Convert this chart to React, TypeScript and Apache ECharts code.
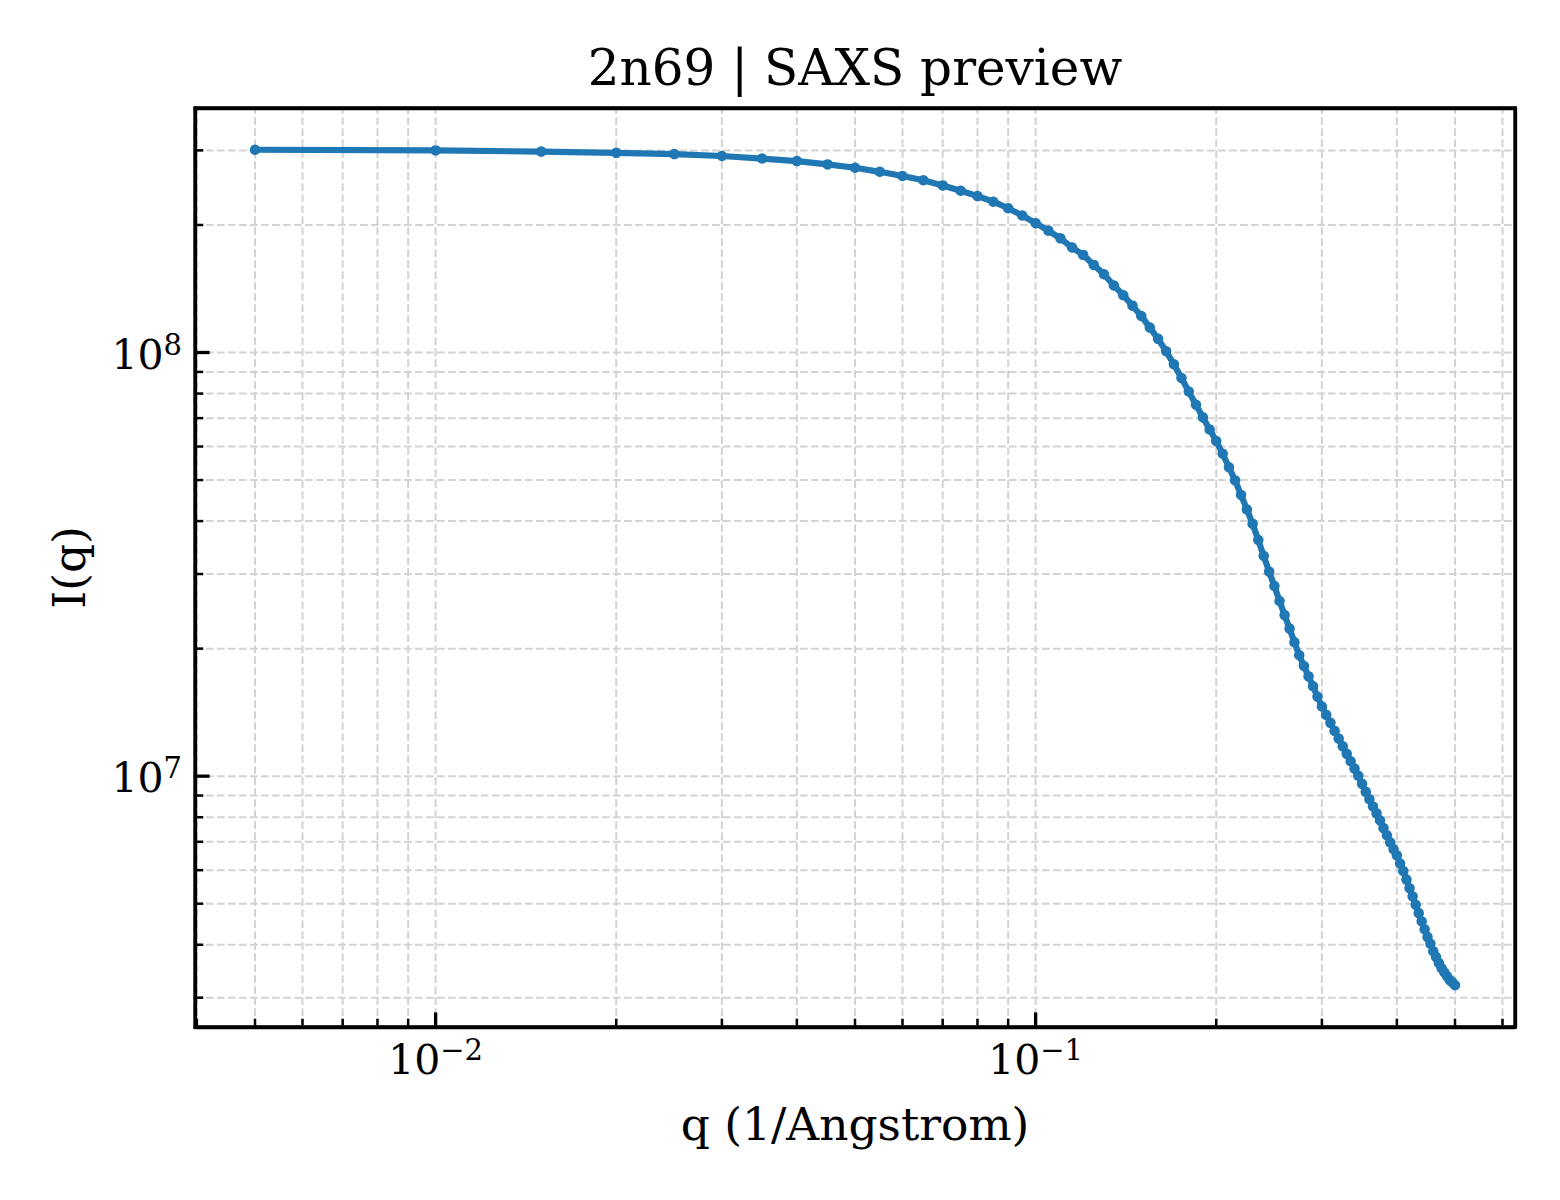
import React, { useEffect, useRef } from "react";
import * as echarts from "echarts";

// ---- data ----
const qValues: number[] = [
  0.005, 0.01, 0.015, 0.02, 0.025, 0.03, 0.035, 0.04, 0.045, 0.05,
  0.055, 0.06, 0.065, 0.07, 0.075, 0.08, 0.085, 0.09, 0.095, 0.1,
  0.105, 0.11, 0.115, 0.12, 0.125, 0.13, 0.135, 0.14, 0.145, 0.15,
  0.155, 0.16, 0.165, 0.17, 0.175, 0.18, 0.185, 0.19, 0.195, 0.2,
  0.205, 0.21, 0.215, 0.22, 0.225, 0.23, 0.235, 0.24, 0.245, 0.25,
  0.255, 0.26, 0.265, 0.27, 0.275, 0.28, 0.285, 0.29, 0.295, 0.3,
  0.305, 0.31, 0.315, 0.32, 0.325, 0.33, 0.335, 0.34, 0.345, 0.35,
  0.355, 0.36, 0.365, 0.37, 0.375, 0.38, 0.385, 0.39, 0.395, 0.4,
  0.405, 0.41, 0.415, 0.42, 0.425, 0.43, 0.435, 0.44, 0.445, 0.45,
  0.455, 0.46, 0.465, 0.47, 0.475, 0.48, 0.485, 0.49, 0.495, 0.5,
];

const intensity: number[] = [
  3.01e8, 3.0e8, 2.98e8, 2.96e8, 2.94e8, 2.91e8, 2.87e8, 2.83e8, 2.78e8, 2.73e8,
  2.67e8, 2.61e8, 2.55e8, 2.48e8, 2.41e8, 2.34e8, 2.27e8, 2.19e8, 2.105e8, 2.02e8,
  1.94e8, 1.86e8, 1.77e8, 1.7e8, 1.61e8, 1.53e8, 1.44e8, 1.365e8, 1.29e8, 1.22e8,
  1.145e8, 1.077e8, 1.007e8, 9.38e7, 8.71e7, 8.09e7, 7.53e7, 7.03e7, 6.58e7, 6.18e7,
  5.77e7, 5.36e7, 4.99e7, 4.61e7, 4.26e7, 3.94e7, 3.61e7, 3.31e7, 3.04e7, 2.81e7,
  2.59e7, 2.4e7, 2.23e7, 2.07e7, 1.93e7, 1.82e7, 1.72e7, 1.63e7, 1.54e7, 1.46e7,
  1.395e7, 1.336e7, 1.279e7, 1.226e7, 1.176e7, 1.129e7, 1.084e7, 1.042e7, 1.002e7, 9.59e6,
  9.18e6, 8.82e6, 8.48e6, 8.17e6, 7.86e6, 7.54e6, 7.25e6, 6.97e6, 6.72e6, 6.5e6,
  6.22e6, 5.97e6, 5.7e6, 5.44e6, 5.2e6, 4.97e6, 4.75e6, 4.54e6, 4.35e6, 4.17e6,
  4.02e6, 3.86e6, 3.74e6, 3.62e6, 3.52e6, 3.44e6, 3.37e6, 3.3e6, 3.26e6, 3.21e6,
];

const xMajorTicks: number[] = [0.01, 0.1];
const xMinorTicks: number[] = [
  0.004, 0.005, 0.006, 0.007, 0.008, 0.009,
  0.02, 0.03, 0.04, 0.05, 0.06, 0.07, 0.08, 0.09,
  0.2, 0.3, 0.4, 0.5, 0.6,
];
const yMajorTicks: number[] = [1e7, 1e8];
const yMinorTicks: number[] = [
  3e6, 4e6, 5e6, 6e6, 7e6, 8e6, 9e6,
  2e7, 3e7, 4e7, 5e7, 6e7, 7e7, 8e7, 9e7,
  2e8, 3e8,
];

const TITLE = "2n69 | SAXS preview";
const X_NAME = "q (1/Angstrom)";
const Y_NAME = "I(q)";

// ---- styling ----
const FONT = '"DejaVu Serif", serif';
const LINE_COLOR = "#1f77b4";
const GRID_COLOR = "#d3d3d3";
const SPINE_W = 3.3;

function paddedLogRange(vals: number[]): [number, number] {
  const lo = Math.log10(Math.min(...vals));
  const hi = Math.log10(Math.max(...vals));
  const pad = (hi - lo) * 0.05;
  return [Math.pow(10, lo - pad), Math.pow(10, hi + pad)];
}

function powerLabel(v: number): string {
  const e = Math.log10(v);
  const r = Math.round(e);
  if (Math.abs(e - r) > 1e-6) return "";
  const s = r < 0 ? "\u2212" + String(-r) : String(r);
  return `{b|10}{s|${s}}`;
}

const labelRich = {
  b: { fontFamily: FONT, fontSize: 41, color: "#000", verticalAlign: "bottom", padding: [4, 0, 0, 0] },
  s: { fontFamily: FONT, fontSize: 29, color: "#000", verticalAlign: "top" },
};

export default function App() {
  const ref = useRef<HTMLDivElement>(null);

  useEffect(() => {
    if (!ref.current) return;
    const chart = echarts.init(ref.current, undefined, { renderer: "svg" });

    const [xMin, xMax] = paddedLogRange(qValues);
    const [yMin, yMax] = paddedLogRange(intensity);
    const yRef = Math.sqrt(yMin * yMax);
    const xRef = Math.sqrt(xMin * xMax);

    const vData = [
      ...xMinorTicks.map((v) => [v, yRef, 0]),
      ...xMajorTicks.map((v) => [v, yRef, 1]),
    ];
    const hData = [
      ...yMinorTicks.map((v) => [xRef, v, 0]),
      ...yMajorTicks.map((v) => [xRef, v, 1]),
    ];

    const gridStyle = { stroke: GRID_COLOR, lineWidth: 2, lineDash: [7.7, 3.3] };

    const baseAxis = {
      type: "log" as const,
      logBase: 10,
      z: 10,
      axisTick: { show: false },
      minorTick: { show: false },
      splitLine: { show: false },
      minorSplitLine: { show: false },
    };

    chart.setOption({
      animation: false,
      backgroundColor: "#fff",
      textStyle: { fontFamily: FONT },
      title: {
        text: TITLE,
        left: 850,
        top: 38,
        textAlign: "center",
        textStyle: { fontFamily: FONT, fontSize: 50, fontWeight: "normal", color: "#000" },
      },
      grid: {
        left: 195,
        top: 108,
        right: 45,
        bottom: 173,
        show: true,
        borderColor: "#000",
        borderWidth: SPINE_W,
        backgroundColor: "#fff",
      },
      xAxis: [
        {
          ...baseAxis,
          min: xMin,
          max: xMax,
          position: "bottom",
          axisLine: { show: true, onZero: false, lineStyle: { color: "#000", width: SPINE_W } },
          axisLabel: { formatter: powerLabel, margin: 8, rich: labelRich, color: "#000" },
          name: X_NAME,
          nameLocation: "middle",
          nameGap: 74,
          nameTextStyle: { fontFamily: FONT, fontSize: 45.5, color: "#000" },
        },
        {
          ...baseAxis,
          min: xMin,
          max: xMax,
          position: "top",
          axisLine: { show: true, onZero: false, lineStyle: { color: "#000", width: SPINE_W } },
          axisLabel: { show: false },
        },
      ],
      yAxis: [
        {
          ...baseAxis,
          min: yMin,
          max: yMax,
          position: "left",
          axisLine: { show: true, onZero: false, lineStyle: { color: "#000", width: SPINE_W } },
          axisLabel: { formatter: powerLabel, margin: 13, rich: labelRich, color: "#000" },
          name: Y_NAME,
          nameLocation: "middle",
          nameGap: 103,
          nameTextStyle: { fontFamily: FONT, fontSize: 45.5, color: "#000" },
        },
        {
          ...baseAxis,
          min: yMin,
          max: yMax,
          position: "right",
          axisLine: { show: true, onZero: false, lineStyle: { color: "#000", width: SPINE_W } },
          axisLabel: { show: false },
        },
      ],
      series: [
        {
          type: "custom",
          name: "vgrid",
          xAxisIndex: 0,
          yAxisIndex: 0,
          silent: true,
          z: 1,
          clip: false,
          data: vData,
          renderItem: (params: any, api: any) => {
            const cs = params.coordSys;
            const x = api.coord([api.value(0), api.value(1)])[0];
            const major = api.value(2) === 1;
            const bottom = cs.y + cs.height;
            const tickLen = major ? 14.6 : 8.3;
            return {
              type: "group",
              children: [
                { type: "line", shape: { x1: x, y1: bottom, x2: x, y2: cs.y }, style: gridStyle },
                {
                  type: "line",
                  shape: { x1: x, y1: bottom, x2: x, y2: bottom - tickLen },
                  style: { stroke: "#000", lineWidth: major ? 3.3 : 2.5 },
                },
              ],
            };
          },
        },
        {
          type: "custom",
          name: "hgrid",
          xAxisIndex: 0,
          yAxisIndex: 0,
          silent: true,
          z: 1,
          clip: false,
          data: hData,
          renderItem: (params: any, api: any) => {
            const cs = params.coordSys;
            const y = api.coord([api.value(0), api.value(1)])[1];
            const major = api.value(2) === 1;
            const tickLen = major ? 14.6 : 8.3;
            return {
              type: "group",
              children: [
                { type: "line", shape: { x1: cs.x, y1: y, x2: cs.x + cs.width, y2: y }, style: gridStyle },
                {
                  type: "line",
                  shape: { x1: cs.x, y1: y, x2: cs.x + tickLen, y2: y },
                  style: { stroke: "#000", lineWidth: major ? 3.3 : 2.5 },
                },
              ],
            };
          },
        },
        {
          type: "line",
          name: "I(q)",
          xAxisIndex: 0,
          yAxisIndex: 0,
          z: 3,
          clip: false,
          data: qValues.map((q, i) => [q, intensity[i]]),
          symbol: "circle",
          symbolSize: 10.5,
          showSymbol: true,
          showAllSymbol: true,
          lineStyle: { color: LINE_COLOR, width: 6.2 },
          itemStyle: { color: LINE_COLOR },
          emphasis: { disabled: true },
        },
      ],
    });

    return () => chart.dispose();
  }, []);

  return (
    <div
      ref={ref}
      style={{ position: "absolute", left: 0, top: 0, width: 1560, height: 1200, background: "#fff" }}
    />
  );
}
